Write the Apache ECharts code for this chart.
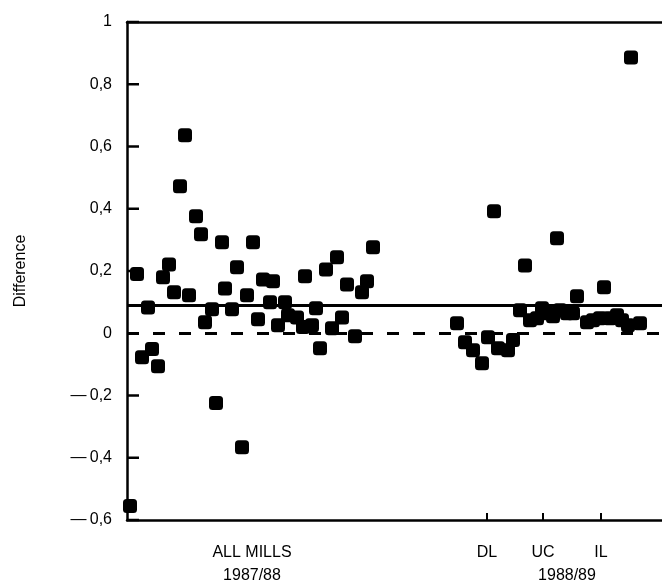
<!DOCTYPE html>
<html><head><meta charset="utf-8">
<script src="https://cdn.jsdelivr.net/npm/echarts@6/dist/echarts.min.js"></script>
<style>html,body{margin:0;padding:0;background:#fff}#c{width:662px;height:586px}</style>
</head><body><div id="c"></div>
<script>
// Sample positions (arbitrary order units) and differences
const xMills8788 = [0.6,2,3,4.2,5,6.2,7.2,8.4,9.4,10.6,11.6,12.4,13.8,14.8,15.6,17,17.8,19,19.6,21,22,23,24,25.2,26.2,27.2,28.6,29.2,30.2,31.6,32.2,34,35.2,35.6,37,37.8,38.6,39.8,41,42,43,44,45.6,47,48,49.2];
const yMills8788 = [-0.555,0.19,-0.077,0.083,-0.051,-0.106,0.18,0.221,0.132,0.472,0.636,0.122,0.376,0.318,0.035,0.077,-0.224,0.292,0.144,0.077,0.212,-0.366,0.122,0.292,0.045,0.173,0.1,0.167,0.026,0.1,0.058,0.051,0.02,0.183,0.026,0.08,-0.048,0.205,0.016,0.244,0.051,0.157,-0.01,0.132,0.167,0.276];
const xMills8889 = [66,67.6,69.2,71,72.2,73.4,74.2,76.2,77.2,78.6,79.6,80.6,82,83,84,85.2,86,86.6,88,89.2,90,92,93.2,94.6,95.4,96.6,98,99,100.2,100.8,102.6];
const yMills8889 = [0.032,-0.029,-0.055,-0.096,-0.013,0.392,-0.048,-0.055,-0.022,0.074,0.218,0.042,0.048,0.08,0.064,0.055,0.305,0.074,0.064,0.064,0.119,0.035,0.042,0.048,0.148,0.048,0.058,0.042,0.026,0.886,0.032];
const meanDiff = 0.087;
const yTicks = [-0.6,-0.4,-0.2,0,0.2,0.4,0.6,0.8,1];
const millTicks = [72, 83.2, 94.8];
const millNames = ['DL','UC','IL'];
const groupPos = [25, 88];
const groupTop = ['ALL MILLS', ''];
const groupYears = ['1987/88', '1988/89'];

const pts = xMills8788.map((x,i)=>[x,yMills8788[i]]).concat(xMills8889.map((x,i)=>[x,yMills8889[i]]));
const font = 'Liberation Sans';
function fmtY(v){
  const r = Math.round(v*10)/10;
  if (r===0) return '0';
  if (r===1) return '1';
  let s = Math.abs(r).toFixed(1).replace('.',',');
  return (r<0?'\u2014\u2009':'') + s;
}
const chart = echarts.init(document.getElementById('c'));
chart.setOption({
  animation:false,
  backgroundColor:'#fff',
  grid:{left:127,top:22,right:0,bottom:66},
  xAxis:[
    {type:'value',min:0,max:107,position:'bottom',
     axisLine:{show:true,onZero:false,lineStyle:{color:'#000',width:2.5}},
     axisTick:{show:true,inside:true,length:7,customValues:millTicks,lineStyle:{color:'#000',width:2}},
     axisLabel:{show:true,customValues:millTicks.concat([groupPos[0]]),margin:25,color:'#000',fontFamily:font,fontSize:16,
       formatter:v=>{const i=millTicks.indexOf(v); if(i>=0) return millNames[i]; return groupTop[groupPos.indexOf(v)]||'';}},
     splitLine:{show:false}},
    {type:'value',min:0,max:107,position:'bottom',offset:23,
     axisLine:{show:false,onZero:false},axisTick:{show:false},splitLine:{show:false},
     axisLabel:{show:true,customValues:groupPos,margin:25,color:'#000',fontFamily:font,fontSize:16,
       formatter:v=>groupYears[groupPos.indexOf(v)]||''}},
    {type:'value',min:0,max:107,position:'top',
     axisLine:{show:true,onZero:false,lineStyle:{color:'#000',width:2.5}},axisTick:{show:false},axisLabel:{show:false},splitLine:{show:false}}
  ],
  yAxis:{type:'value',min:-0.6,max:1,interval:0.2,
    name:'Difference',nameLocation:'middle',nameGap:98,nameRotate:90,
    nameTextStyle:{color:'#000',fontFamily:font,fontSize:16},
    axisLine:{show:true,onZero:false,lineStyle:{color:'#000',width:2.5}},
    axisTick:{show:false},
    axisLabel:{color:'#000',fontFamily:font,fontSize:16,margin:15,formatter:fmtY},
    splitLine:{show:false}},
  series:[{
    type:'scatter',xAxisIndex:0,data:pts,symbol:'roundRect',symbolSize:14,
    itemStyle:{color:'#000',opacity:1},clip:false,z:3,
    markLine:{silent:true,symbol:['none','none'],label:{show:false},
      lineStyle:{color:'#000',width:3,type:'solid'},
      data:[{yAxis:meanDiff}]}
  },{
    type:'scatter',xAxisIndex:0,data:[],
    markLine:{silent:true,symbol:['none','none'],label:{show:false},
      lineStyle:{color:'#000',width:3,type:[12,14]},
      data:[{yAxis:0}]}
  },{
    type:'custom',xAxisIndex:0,silent:true,clip:false,z:4,
    data:yTicks.map(v=>[0,v]),
    renderItem:function(params, api){
      const p = api.coord([api.value(0), api.value(1)]);
      return {type:'line',shape:{x1:p[0],y1:p[1],x2:p[0]+12,y2:p[1]},style:{stroke:'#000',lineWidth:2.5}};
    }
  }]
});
</script></body></html>
